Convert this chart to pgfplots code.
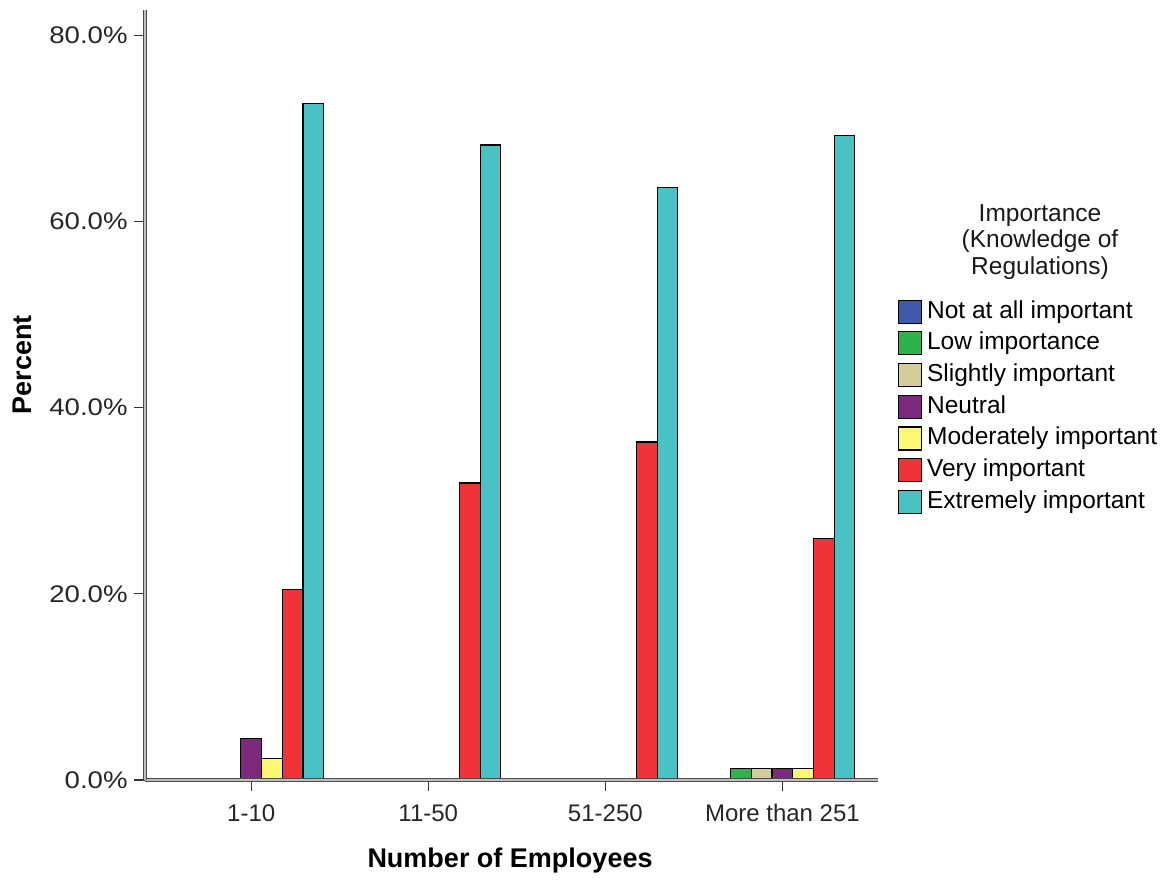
\documentclass[border=0pt]{standalone}
\usepackage{pgfplots}
\pgfplotsset{compat=1.18}
\usepackage{fontspec}
\setmainfont{Liberation Sans}
\definecolor{cBlue}{HTML}{3E58AC}
\definecolor{cGreen}{HTML}{2DB34A}
\definecolor{cTan}{HTML}{D4CC99}
\definecolor{cPurple}{HTML}{7B287D}
\definecolor{cYellow}{HTML}{FBF873}
\definecolor{cRed}{HTML}{EF3338}
\definecolor{cCyan}{HTML}{48C2C5}
\begin{document}
\begin{tikzpicture}
\begin{axis}[
  scale only axis,
  width=733pt, height=770pt,
  xmin=-0.6, xmax=3.54,
  ymin=0, ymax=82.7,
  ybar=0pt, bar width=0.117,
  axis on top,
  axis x line*=bottom, axis y line*=left,
  x axis line style={-, draw=black!70, line width=1pt, double=black!25, double distance=1.6pt},
  y axis line style={-, draw=black!70, line width=1pt, double=black!25, double distance=1.6pt},
  xtick={0,1,2,3},
  xticklabels={1-10,11-50,51-250,More than 251},
  ytick={0,20,40,60,80},
  yticklabel={\pgfmathprintnumber[fixed,fixed zerofill,precision=1]{\tick}\%},
  /pgf/number format/assume math mode=true,
  tick align=outside,
  xtick pos=bottom, ytick pos=left,
  major tick length=11pt,
  tick style={black!80, line width=1.2pt},
  xticklabel style={font=\fontsize{24}{28}\selectfont, text=black!85, yshift=-10pt},
  yticklabel style={font=\fontsize{24}{28}\selectfont, text=black!85, xscale=1.15, anchor=east, xshift=-2pt},
  xlabel={\textbf{Number of Employees}},
  ylabel={\textbf{Percent}},
  xlabel style={font=\fontsize{27}{30}\selectfont, at={(axis description cs:0.498,-0.104)}, anchor=center},
  ylabel style={font=\fontsize{27}{30}\selectfont, at={(axis description cs:-0.168,0.539)}, anchor=center, rotate=0},
  every axis plot/.append style={draw=black, line width=1.1pt},
  legend image code/.code={\draw[#1, draw=black, line width=1.1pt] (0pt,-11.5pt) rectangle (23pt,11.5pt);},
  legend style={at={(axis description cs:1.027,0.629)}, anchor=north west, draw=none, fill=none,
    font=\fontsize{24.5}{29}\selectfont, row sep=0pt, inner sep=0pt,
    nodes={inner sep=2pt, text height=20.2pt, text depth=7.5pt},
    /tikz/every odd column/.append style={column sep=3pt}},
  legend cell align=left,
  clip=false,
]
\addplot[fill=cBlue] coordinates {(0,0) (1,0) (2,0) (3,0)};
\addplot[fill=cGreen] coordinates {(0,0) (1,0) (2,0) (3,1.2)};
\addplot[fill=cTan] coordinates {(0,0) (1,0) (2,0) (3,1.2)};
\addplot[fill=cPurple] coordinates {(0,4.5) (1,0) (2,0) (3,1.2)};
\addplot[fill=cYellow] coordinates {(0,2.3) (1,0) (2,0) (3,1.2)};
\addplot[fill=cRed] coordinates {(0,20.5) (1,31.9) (2,36.3) (3,25.9)};
\addplot[fill=cCyan] coordinates {(0,72.7) (1,68.2) (2,63.6) (3,69.2)};
\legend{Not at all important, Low importance, Slightly important, Neutral, Moderately important, Very important, Extremely important}
\node[align=center, font=\fontsize{24.5}{26.5}\selectfont, text=black!90] at (axis description cs:1.221,0.699) {Importance\\(Knowledge of\\Regulations)};
\end{axis}
\pgfresetboundingbox
\path (current axis.south west) ++(-145pt,-102pt) rectangle ++(1174pt,882pt);
\end{tikzpicture}
\end{document}
